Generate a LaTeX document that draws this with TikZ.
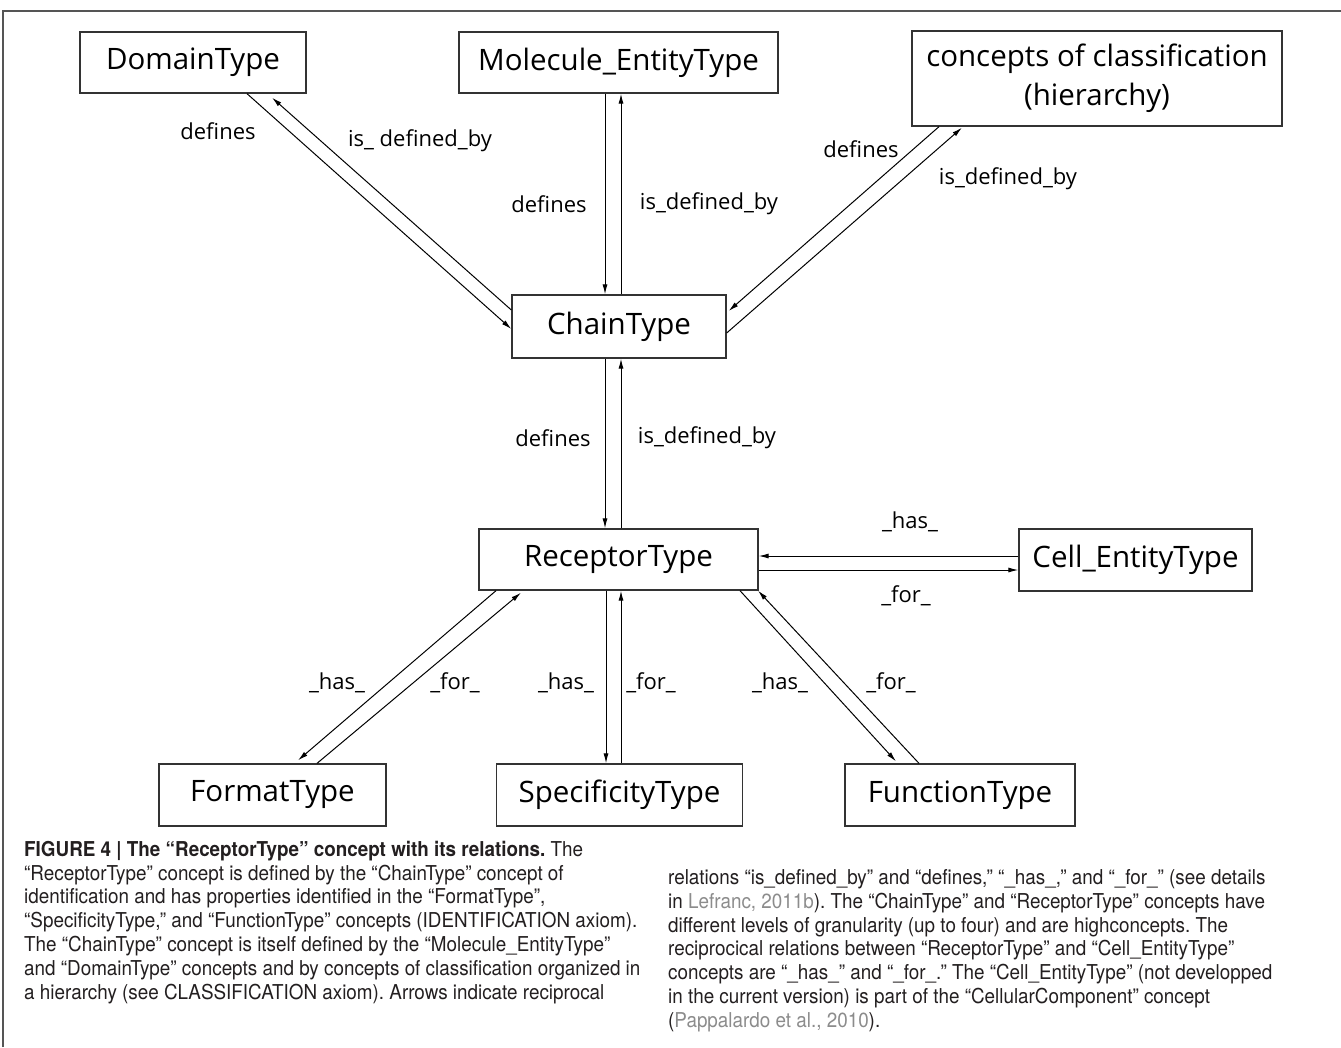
\documentclass[tikz,border=0pt]{standalone}
\usepackage{fontspec}
\setmainfont{Open Sans}
\newfontfamily\capfont[FakeStretch=0.92]{TeX Gyre Heros}
\usetikzlibrary{arrows.meta,calc}
\definecolor{boxgray}{HTML}{333333}
\definecolor{framegray}{HTML}{555555}
\definecolor{refgray}{HTML}{8C8C8C}
\definecolor{captext}{HTML}{231F20}
\tikzset{
  concept/.style={draw=boxgray,line width=1.3pt,rectangle,inner sep=0pt,align=center,
    font=\fontsize{29.5}{39}\selectfont},
  rel/.style={draw=black,line width=1pt,-{Latex[length=10pt,width=5pt]}},
  lbl/.style={font=\fontsize{22}{25}\selectfont,inner sep=0pt},
  capline/.style={anchor=base west,inner sep=0pt,text=captext,font=\capfont\fontsize{20.5}{24}\selectfont\frenchspacing},
}
\begin{document}
\begin{tikzpicture}[x=1pt,y=-1pt]
\useasboundingbox (0,0) rectangle (1341,1047);
\fill[white] (0,0) rectangle (1341,1047);
\draw[framegray,line width=1.2pt] (3,1047) -- (3,11) -- (1341,11);

% concept boxes
\node[concept,minimum width=226,minimum height=61] (dom) at (193,62.5) {DomainType};
\node[concept,minimum width=319,minimum height=61] (mol) at (618.5,62.5) {Molecule\_EntityType};
\node[concept,minimum width=370,minimum height=95] (conc) at (1097,78.5) {concepts of classification\\(hierarchy)};
\node[concept,minimum width=214,minimum height=63] (chain) at (619,326.5) {ChainType};
\node[concept,minimum width=279,minimum height=61] (rec) at (618.5,559.5) {ReceptorType};
\node[concept,minimum width=233,minimum height=62] (cell) at (1135.5,560) {Cell\_EntityType};
\node[concept,minimum width=227,minimum height=62] (fmt) at (272.5,795) {FormatType};
\node[concept,minimum width=246,minimum height=62] (spec) at (619.5,795) {SpecificityType};
\node[concept,minimum width=230,minimum height=62] (func) at (960,795) {FunctionType};

% Domain - Chain
\draw[rel] ($(dom.south)+(54,0)$) -- ($(chain.west)+(0,2.5)$);
\draw[rel] ($(chain.west)+(0,-16.5)$) -- ($(dom.south)+(79,4)$);
% Molecule - Chain
\draw[rel] ($(mol.south)+(-13.5,0)$) -- ($(chain.north)+(-14,0)$);
\draw[rel] ($(chain.north)+(2,0)$) -- ($(mol.south)+(2.5,0)$);
% Concepts - Chain
\draw[rel] ($(conc.south)+(-158,0)$) -- ($(chain.east)+(2,-15.5)$);
\draw[rel] ($(chain.east)+(0,6.5)$) -- ($(conc.south)+(-135,1)$);
% Chain - Receptor
\draw[rel] ($(chain.south)+(-14,0)$) -- ($(rec.north)+(-13.5,0)$);
\draw[rel] ($(rec.north)+(2.5,0)$) -- ($(chain.south)+(2,0)$);
% Receptor - Cell
\draw[rel] ($(cell.west)+(0,-4)$) -- ($(rec.east)+(0,-3.5)$);
\draw[rel] ($(rec.east)+(0,10.5)$) -- ($(cell.west)+(0,10)$);
% Receptor - Format
\draw[rel] ($(rec.south)+(-122.5,0)$) -- ($(fmt.north)+(25.5,-3)$);
\draw[rel] ($(fmt.north)+(44.5,0)$) -- ($(rec.south)+(-97.5,2)$);
% Receptor - Specificity
\draw[rel] ($(rec.south)+(-12.5,0)$) -- ($(spec.north)+(-13.5,0)$);
\draw[rel] ($(spec.north)+(1.5,0)$) -- ($(rec.south)+(2.5,0)$);
% Receptor - Function
\draw[rel] ($(rec.south)+(121.5,0)$) -- ($(func.north)+(-64,-2)$);
\draw[rel] ($(func.north)+(-41,0)$) -- ($(rec.south)+(139.5,0)$);

% relation labels
\node[lbl] (t1) at (218,131) {defines};
\node[lbl] (t2) at (420,141) {is\_ defined\_by};
\node[lbl] (t3) at (549,204) {defines};
\node[lbl] (t4) at (709,204) {is\_defined\_by};
\node[lbl] (t5) at (861,149) {defines};
\node[lbl] (t6) at (1008,179) {is\_defined\_by};
\node[lbl] (t7) at (553,438) {defines};
\node[lbl] (t8) at (707,438) {is\_defined\_by};
\node[lbl] (t9) at (910,522) {\_has\_};
\node[lbl] (t10) at (906,596) {\_for\_};
\node[lbl] (t11) at (337,683) {\_has\_};
\node[lbl] (t12) at (455,683) {\_for\_};
\node[lbl] (t13) at (566,683) {\_has\_};
\node[lbl] (t14) at (651,683) {\_for\_};
\node[lbl] (t15) at (780,683) {\_has\_};
\node[lbl] (t16) at (891,683) {\_for\_};

% caption, left column
\node[capline] (c1) at (24,856) {\bfseries FIGURE 4 | The “ReceptorType” concept with its relations.\mdseries{} The};
\node[capline] (c2) at (24,880) {“ReceptorType” concept is defined by the “ChainType” concept of};
\node[capline] (c3) at (24,903) {identification and has properties identified in the “FormatType”,};
\node[capline] (c4) at (24,927) {“SpecificityType,” and “FunctionType” concepts (IDENTIFICATION axiom).};
\node[capline] (c5) at (24,951) {The “ChainType” concept is itself defined by the “Molecule\_EntityType”};
\node[capline] (c6) at (24,975) {and “DomainType” concepts and by concepts of classification organized in};
\node[capline] (c7) at (24,999) {a hierarchy (see CLASSIFICATION axiom). Arrows indicate reciprocal};
% caption, right column
\node[capline] (d1) at (668,884) {relations “is\_defined\_by” and “defines,” “\_has\_,” and “\_for\_” (see details};
\node[capline] (d2) at (668,908) {in \textcolor{refgray}{Lefranc, 2011b}). The “ChainType” and “ReceptorType” concepts have};
\node[capline] (d3) at (668,932) {different levels of granularity (up to four) and are highconcepts. The};
\node[capline] (d4) at (668,955) {reciprocical relations between “ReceptorType” and “Cell\_EntityType”};
\node[capline] (d5) at (668,979) {concepts are “\_has\_” and “\_for\_.” The “Cell\_EntityType” (not developped};
\node[capline] (d6) at (668,1003) {in the current version) is part of the “CellularComponent” concept};
\node[capline] (d7) at (668,1027) {(\textcolor{refgray}{Pappalardo et al., 2010}).};
\end{tikzpicture}
\end{document}
